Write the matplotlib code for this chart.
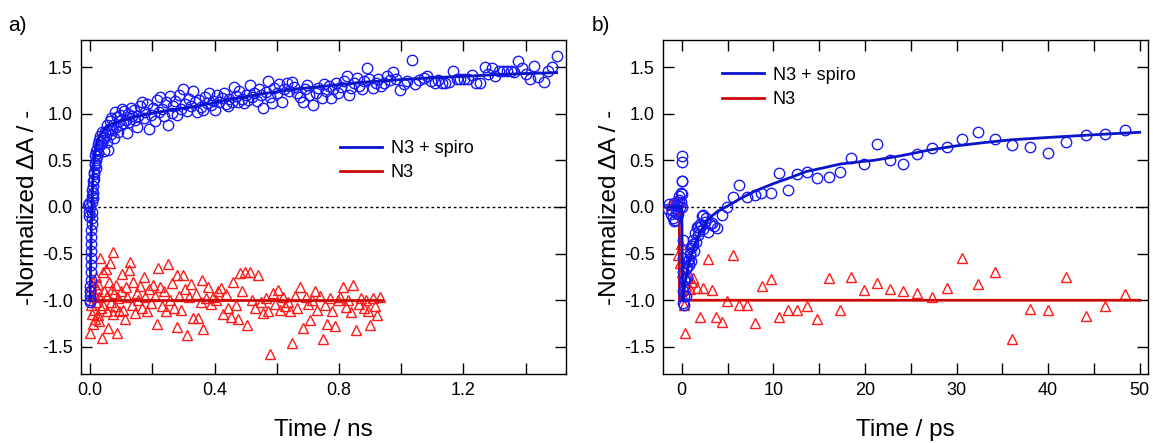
"""Transient absorption kinetics: N3 vs N3 + spiro, ns and ps windows."""
import matplotlib

matplotlib.use("Agg")
import matplotlib.pyplot as plt
from matplotlib.ticker import FixedLocator, FuncFormatter

plt.rcParams["font.family"] = ["Liberation Sans", "DejaVu Sans"]
plt.rcParams["axes.unicode_minus"] = False

BLUE_PTS = "#1a1aff"
BLUE_FIT = "#0a14c8"
RED_PTS = "#ff1a1a"
RED_FIT = "#cc0a0a"

# ---- panel a) : ns window -------------------------------------------------
ns_spiro_t = [
    -0.006, -0.004, -0.003, -0.002, -0.001, 0.000, 0.000, 0.001, 0.001, 0.001,
    0.002, 0.002, 0.002, 0.003, 0.003, 0.003, 0.004, 0.004, 0.005, 0.005,
    0.006, 0.006, 0.007, 0.007, 0.008, 0.009, 0.010, 0.011, 0.012, 0.013,
    0.014, 0.015, 0.016, 0.017, 0.018, 0.019, 0.020, 0.022, 0.023, 0.025,
    0.027, 0.029, 0.031, 0.033, 0.036, 0.038, 0.041,
    0.042, 0.045, 0.048, 0.050, 0.053, 0.055, 0.058, 0.060, 0.063, 0.066,
    0.068, 0.071, 0.074, 0.077, 0.080, 0.083, 0.086, 0.089, 0.092, 0.095,
    0.098, 0.102, 0.106, 0.110, 0.114, 0.118, 0.122, 0.126, 0.130, 0.135,
    0.140, 0.145, 0.150, 0.155, 0.160, 0.166, 0.172, 0.178, 0.184, 0.190,
    0.196, 0.202, 0.208, 0.214, 0.220, 0.226, 0.232, 0.238, 0.244, 0.250,
    0.256, 0.262, 0.268, 0.274, 0.280, 0.286, 0.292, 0.300, 0.306, 0.312,
    0.318, 0.324, 0.332, 0.338, 0.344, 0.350, 0.356, 0.364, 0.370, 0.376,
    0.382, 0.390, 0.396, 0.402, 0.408, 0.416, 0.424, 0.430, 0.436, 0.442,
    0.448, 0.456, 0.462, 0.468, 0.474, 0.480, 0.488, 0.494, 0.500, 0.508,
    0.514, 0.520, 0.528, 0.536, 0.544, 0.550, 0.557, 0.564, 0.572, 0.578,
    0.586, 0.592, 0.600, 0.608, 0.616, 0.622, 0.632, 0.640, 0.648, 0.656,
    0.664, 0.675, 0.685, 0.692, 0.697, 0.705, 0.718, 0.726, 0.734, 0.744,
    0.752, 0.760, 0.768, 0.775, 0.782, 0.790, 0.798, 0.806, 0.815, 0.825,
    0.833, 0.840, 0.848, 0.858, 0.866, 0.875, 0.882, 0.890, 0.898, 0.908,
    0.918, 0.926, 0.935, 0.945, 0.955, 0.965, 0.975, 0.985, 0.997, 1.008,
    1.018, 1.034, 1.045, 1.058, 1.072, 1.082, 1.095, 1.108, 1.118, 1.130,
    1.142, 1.154, 1.166, 1.178, 1.190, 1.202, 1.215, 1.228, 1.240, 1.252,
    1.268, 1.280, 1.292, 1.302, 1.315, 1.328, 1.340, 1.352, 1.364, 1.377,
    1.390, 1.402, 1.414, 1.428, 1.440, 1.460, 1.472, 1.485, 1.500,
]
ns_spiro_v = [
    0.02, -0.05, 0.04, -0.10, 0.00, -1.02, -0.95, -0.90, -0.85, -1.00,
    -0.78, -0.70, -0.62, -0.55, -0.47, -0.40, -0.32, -0.25, -0.18, -0.12,
    -0.05, 0.05, 0.12, 0.18, 0.10, 0.22, 0.28, 0.15, 0.30, 0.35,
    0.38, 0.45, 0.56, 0.47, 0.50, 0.42, 0.60, 0.55, 0.62, 0.68,
    0.58, 0.72, 0.66, 0.76, 0.70, 0.80, 0.74,
    0.72, 0.60, 0.80, 0.77, 0.88, 0.70, 0.61, 0.84, 0.92, 0.78,
    0.95, 0.83, 0.88, 0.74, 1.02, 0.86, 0.96, 0.80, 0.92, 0.99,
    0.88, 1.05, 0.90, 1.03, 0.93, 0.79, 1.00, 0.91, 1.06, 0.97,
    1.04, 0.93, 0.86, 0.98, 1.08, 1.13, 0.95, 1.02, 1.10, 0.84,
    0.99, 1.06, 0.92, 1.15, 1.02, 1.18, 1.05, 0.97, 1.12, 0.88,
    1.19, 1.01, 1.08, 1.14, 0.99, 1.20, 1.05, 1.26, 1.10, 1.03,
    1.16, 1.08, 1.24, 1.12, 1.02, 1.15, 1.07, 1.04, 1.18, 1.11,
    1.22, 1.09, 1.14, 1.04, 1.20, 1.12, 1.17, 1.22, 1.10, 1.08,
    1.16, 1.13, 1.29, 1.19, 1.12, 1.24, 1.16, 1.11, 1.20, 1.15,
    1.31, 1.18, 1.22, 1.14, 1.26, 1.20, 1.06, 1.23, 1.35, 1.18,
    1.11, 1.28, 1.22, 1.32, 1.12, 1.26, 1.33, 1.24, 1.34, 1.29,
    1.22, 1.18, 1.13, 1.26, 1.31, 1.20, 1.09, 1.22, 1.28, 1.17,
    1.32, 1.24, 1.30, 1.17, 1.26, 1.33, 1.22, 1.29, 1.35, 1.40,
    1.20, 1.28, 1.33, 1.38, 1.30, 1.26, 1.35, 1.49, 1.37, 1.28,
    1.33, 1.37, 1.30, 1.33, 1.40, 1.36, 1.45, 1.37, 1.25, 1.32,
    1.35, 1.575, 1.32, 1.36, 1.38, 1.40, 1.35, 1.33, 1.36, 1.33,
    1.33, 1.34, 1.46, 1.37, 1.37, 1.37, 1.37, 1.41, 1.33, 1.33,
    1.50, 1.43, 1.49, 1.40, 1.46, 1.46, 1.46, 1.46, 1.45, 1.56,
    1.49, 1.43, 1.37, 1.51, 1.39, 1.34, 1.46, 1.50, 1.62,
]
ns_n3_t = [
    0.000, 0.002, 0.004, 0.005, 0.006, 0.008, 0.010, 0.012, 0.014, 0.016,
    0.018, 0.020, 0.022, 0.024, 0.026, 0.028, 0.030, 0.032, 0.034, 0.037,
    0.040, 0.043, 0.046, 0.050, 0.053, 0.056, 0.058, 0.061, 0.064, 0.067,
    0.070, 0.073, 0.075, 0.078, 0.081, 0.084, 0.087, 0.090, 0.094, 0.098,
    0.102, 0.107, 0.112, 0.116, 0.120, 0.124, 0.129, 0.134, 0.139, 0.144,
    0.150, 0.155, 0.160, 0.166, 0.172, 0.178, 0.184, 0.190, 0.196, 0.202,
    0.208, 0.215, 0.219, 0.225, 0.231, 0.237, 0.243, 0.251, 0.257, 0.263,
    0.270, 0.279, 0.279, 0.286, 0.293, 0.300, 0.306, 0.311, 0.318, 0.325,
    0.332, 0.340, 0.348, 0.355, 0.360, 0.364, 0.372, 0.380, 0.388, 0.396,
    0.404, 0.412, 0.420, 0.428, 0.436, 0.444, 0.452, 0.460, 0.468, 0.475,
    0.482, 0.489, 0.497, 0.505, 0.514, 0.522, 0.530, 0.540, 0.548, 0.556,
    0.565, 0.572, 0.579, 0.588, 0.596, 0.604, 0.612, 0.620, 0.628, 0.636,
    0.644, 0.650, 0.658, 0.666, 0.675, 0.685, 0.693, 0.700, 0.707, 0.715,
    0.723, 0.731, 0.740, 0.749, 0.755, 0.762, 0.770, 0.778, 0.788, 0.796,
    0.804, 0.814, 0.822, 0.830, 0.838, 0.846, 0.855, 0.863, 0.872, 0.880,
    0.888, 0.895, 0.900, 0.908, 0.915, 0.922, 0.932,
]
ns_n3_v = [
    -1.35, -1.05, -0.85, -1.15, -0.95, -1.25, -0.80, -1.10, -0.92, -1.20,
    -0.75, -1.02, -0.88, -1.16, -0.83, -1.22, -0.97, -0.55, -1.08, -1.40,
    -0.70, -1.05, -0.90, -0.66, -1.12, -0.95, -1.30, -0.80, -0.60, -1.02,
    -0.88, -1.15, -0.48, -0.92, -1.06, -0.84, -1.35, -0.98, -1.12, -0.90,
    -0.72, -1.10, -1.20, -0.86, -0.96, -0.68, -0.59, -1.05, -0.80, -1.14,
    -0.92, -1.00, -0.85, -1.08, -0.75, -0.97, -1.12, -0.88, -1.03, -0.84,
    -0.95, -1.25, -0.65, -0.86, -1.06, -0.90, -1.12, -0.61, -1.00, -0.82,
    -1.08, -0.73, -1.29, -0.95, -1.10, -0.73, -0.88, -1.37, -0.97, -0.83,
    -1.19, -0.93, -1.19, -1.02, -0.78, -1.31, -0.98, -0.86, -1.04, -0.96,
    -1.00, -0.90, -0.87, -1.15, -0.93, -1.08, -1.18, -0.80, -1.05, -1.20,
    -0.71, -0.90, -0.70, -1.26, -0.70, -1.00, -1.08, -0.73, -1.02, -1.14,
    -0.98, -1.12, -1.58, -0.92, -1.04, -0.89, -1.10, -0.97, -1.06, -1.02,
    -1.12, -1.46, -0.95, -1.08, -0.86, -1.30, -0.97, -1.04, -1.21, -1.00,
    -0.90, -1.10, -0.95, -1.41, -1.05, -1.25, -0.98, -1.12, -1.28, -1.00,
    -0.96, -0.86, -1.07, -1.00, -1.13, -0.84, -1.32, -1.04, -0.98, -1.08,
    -1.00, -1.12, -1.27, -0.98, -1.06, -1.16, -0.96,
]
ns_spiro_fit_t = [
    0.000, 0.002, 0.004, 0.006, 0.008, 0.010, 0.013, 0.016, 0.020, 0.025,
    0.030, 0.037, 0.045, 0.055, 0.070, 0.090, 0.118, 0.150, 0.190, 0.225,
    0.280, 0.332, 0.390, 0.440, 0.500, 0.547, 0.600, 0.654, 0.707, 0.800,
    0.890, 1.000, 1.100, 1.200, 1.318, 1.400, 1.500,
]
ns_spiro_fit_v = [
    -1.00, -0.55, -0.20, 0.05, 0.22, 0.35, 0.48, 0.57, 0.66, 0.72,
    0.76, 0.80, 0.83, 0.86, 0.89, 0.91, 0.94, 0.97, 1.00, 1.02,
    1.05, 1.075, 1.11, 1.147, 1.18, 1.21, 1.235, 1.26, 1.28, 1.31,
    1.34, 1.365, 1.385, 1.40, 1.42, 1.43, 1.44,
]
ns_n3_fit_t = [0.000, 0.940]
ns_n3_fit_v = [-1.00, -1.00]

# ---- panel b) : ps window -------------------------------------------------
ps_spiro_t = [
    -1.50, -1.35, -1.20, -1.10, -1.00, -0.90, -0.80, -0.73, -0.65, -0.55,
    -0.45, -0.35, -0.25, -0.15, -0.10, -0.05, 0.00, 0.00, 0.02, 0.03,
    0.05, 0.08, 0.10, 0.12, 0.13, 0.15, 0.18, 0.20, 0.22, 0.25,
    0.30, 0.36, 0.42, 0.50, 0.56, 0.62, 0.70, 0.74, 0.80, 0.87,
    0.92, 1.00, 1.05, 1.10, 1.20, 1.27, 1.35, 1.45, 1.55, 1.63,
    1.72, 1.80, 1.90, 1.99, 2.10, 2.18, 2.30, 2.36, 2.50, 2.70,
    2.90, 3.10, 3.27, 3.50, 3.80, 4.36, 4.97, 5.63, 6.29, 7.08,
    7.99, 8.70, 9.70, 10.60, 11.55, 12.60, 13.70, 14.80, 16.10, 17.30,
    18.50, 19.90, 21.30, 22.70, 24.20, 25.70, 27.30, 29.00, 30.65, 32.40,
    34.20, 36.10, 38.00, 40.00, 42.00, 44.10, 46.20, 48.40,
]
ps_spiro_v = [
    -0.02, 0.03, -0.08, -0.03, -0.12, 0.04, -0.15, -0.14, -0.06, 0.02,
    -0.08, 0.08, 0.12, 0.00, 0.15, 0.05, 0.55, 0.48, 0.28, 0.28,
    0.14, 0.00, -0.35, -0.55, -0.70, -0.90, -1.03, -0.95, -1.05, -0.85,
    -0.78, -0.78, -0.95, -0.66, -0.64, -0.75, -0.58, -0.56, -0.62, -0.50,
    -0.49, -0.44, -0.58, -0.42, -0.40, -0.35, -0.47, -0.28, -0.38, -0.21,
    -0.30, -0.22, -0.26, -0.18, -0.20, -0.10, -0.24, -0.09, -0.16, -0.12,
    -0.27, -0.18, -0.17, -0.20, -0.23, -0.09, 0.00, 0.11, 0.24, 0.11,
    0.13, 0.15, 0.15, 0.36, 0.18, 0.35, 0.37, 0.31, 0.32, 0.38,
    0.53, 0.46, 0.67, 0.50, 0.46, 0.57, 0.63, 0.64, 0.73, 0.80,
    0.73, 0.66, 0.64, 0.58, 0.70, 0.77, 0.78, 0.82,
]
ps_n3_t = [
    -1.20, -0.80, -0.50, -0.36, -0.30, -0.18, -0.10, 0.00, 0.10, 0.20,
    0.36, 0.50, 0.70, 0.90, 1.10, 1.27, 1.63, 1.99, 2.36, 2.83,
    3.27, 3.74, 4.36, 4.97, 5.63, 6.29, 7.08, 7.99, 8.80, 9.70,
    10.60, 11.55, 12.60, 13.70, 14.80, 16.10, 17.30, 18.50, 19.90, 21.30,
    22.70, 24.20, 25.70, 27.30, 29.00, 30.65, 32.40, 34.20, 36.10, 38.00,
    40.00, 42.00, 44.10, 46.20, 48.40,
]
ps_n3_v = [
    0.02, 0.05, 0.08, -0.51, 0.05, -0.60, -0.40, -0.70, -0.95, -1.05,
    -1.35, -0.85, -0.75, -0.88, -0.80, -0.76, -0.87, -1.18, -0.87, -0.56,
    -0.89, -1.18, -1.23, -1.01, -0.51, -1.05, -1.05, -1.24, -0.85, -0.77,
    -1.18, -1.10, -1.10, -1.06, -1.20, -0.76, -1.10, -0.75, -0.89, -0.81,
    -0.88, -0.90, -0.92, -0.96, -0.87, -0.55, -0.83, -0.70, -1.41, -1.09,
    -1.10, -0.75, -1.17, -1.06, -0.93,
]
ps_spiro_fit_t = [
    -1.50, -0.20, 0.00, 0.05, 0.10, 0.15, 0.20, 0.30, 0.45, 0.60,
    0.80, 1.00, 1.25, 1.50, 2.00, 2.50, 3.00, 4.00, 5.00, 6.40,
    8.00, 10.00, 12.00, 13.60, 15.50, 17.30, 19.00, 21.00, 24.00, 27.00,
    30.00, 33.00, 36.00, 40.00, 43.50, 47.00, 50.00,
]
ps_spiro_fit_v = [
    0.00, 0.00, 0.00, -0.50, -0.85, -1.00, -0.95, -0.86, -0.77, -0.69,
    -0.60, -0.52, -0.45, -0.38, -0.27, -0.19, -0.12, -0.04, 0.01, 0.09,
    0.17, 0.25, 0.32, 0.38, 0.42, 0.46, 0.48, 0.50, 0.55, 0.61,
    0.655, 0.69, 0.72, 0.745, 0.765, 0.785, 0.80,
]
ps_n3_fit_t = [-1.50, -0.27, -0.25, 50.00]
ps_n3_fit_v = [0.00, 0.00, -1.00, -1.00]

Y_TICKS = [-1.5, -1.0, -0.5, 0.0, 0.5, 1.0, 1.5]


def draw_panel(ax, data, xlim, xticks, xlabel_step, xfmt, xlabel):
    (s_t, s_v, n_t, n_v, sf_t, sf_v, nf_t, nf_v) = data
    ax.axhline(0.0, color="black", linestyle=(0, (2, 2)), linewidth=1.0, zorder=1)
    ax.plot(n_t, n_v, linestyle="none", marker="^", markersize=7.5, markerfacecolor="none",
            markeredgecolor=RED_PTS, markeredgewidth=1.0, zorder=2)
    ax.plot(nf_t, nf_v, color=RED_FIT, linewidth=2.0, zorder=3, label="N3")
    ax.plot(s_t, s_v, linestyle="none", marker="o", markersize=7.5, markerfacecolor="none",
            markeredgecolor=BLUE_PTS, markeredgewidth=1.0, zorder=4)
    ax.plot(sf_t, sf_v, color=BLUE_FIT, linewidth=2.0, zorder=5, label="N3 + spiro")
    ax.set_xlim(*xlim)
    ax.set_ylim(-1.79, 1.79)
    ax.xaxis.set_major_locator(FixedLocator(xticks))
    ax.xaxis.set_major_formatter(
        FuncFormatter(lambda value, _: (xfmt.format(value) if abs(round(value / xlabel_step) * xlabel_step - value) < 1e-6 else ""))
    )
    ax.yaxis.set_major_locator(FixedLocator(Y_TICKS))
    ax.yaxis.set_major_formatter(FuncFormatter(lambda value, _: f"{value:.1f}"))
    ax.tick_params(direction="in", length=8, width=1.0, top=True, right=True,
                   labelsize=13, pad=6)
    for spine in ax.spines.values():
        spine.set_linewidth(1.0)
    ax.set_xlabel(xlabel, fontsize=17.5)
    ax.set_ylabel("-Normalized ΔA / -", fontsize=17.5)
    ax.xaxis.set_label_coords(0.5, -0.135)
    ax.yaxis.set_label_coords(-0.087, 0.5)


def main() -> None:
    fig = plt.figure(figsize=(11.53, 4.43), dpi=100)
    ax1 = fig.add_axes([0.0703, 0.1558, 0.4206, 0.754])
    ax2 = fig.add_axes([0.5750, 0.1558, 0.4206, 0.754])

    draw_panel(
        ax1,
        (ns_spiro_t, ns_spiro_v, ns_n3_t, ns_n3_v, ns_spiro_fit_t, ns_spiro_fit_v, ns_n3_fit_t, ns_n3_fit_v),
        (-0.029, 1.530),
        [0.0, 0.2, 0.4, 0.6, 0.8, 1.0, 1.2, 1.4],
        0.4,
        "{:.1f}",
        "Time / ns",
    )
    draw_panel(
        ax2,
        (ps_spiro_t, ps_spiro_v, ps_n3_t, ps_n3_v, ps_spiro_fit_t, ps_spiro_fit_v, ps_n3_fit_t, ps_n3_fit_v),
        (-2.05, 50.9),
        [0, 5, 10, 15, 20, 25, 30, 35, 40, 45, 50],
        10,
        "{:.0f}",
        "Time / ps",
    )

    for ax, anchor in [(ax1, (0.534, 0.70)), (ax2, (0.122, 0.92))]:
        handles, labels = ax.get_legend_handles_labels()
        ax.legend(handles[::-1], labels[::-1], loc="upper left", bbox_to_anchor=anchor,
                  frameon=False, fontsize=13, handlelength=2.3, handletextpad=0.5,
                  borderpad=0.0, borderaxespad=0.0, labelspacing=0.4)

    fig.text(0.007, 0.965, "a)", fontsize=15, va="top")
    fig.text(0.513, 0.965, "b)", fontsize=15, va="top")
    fig.savefig("out.png", dpi=100)
    plt.close(fig)


if __name__ == "__main__":
    main()
